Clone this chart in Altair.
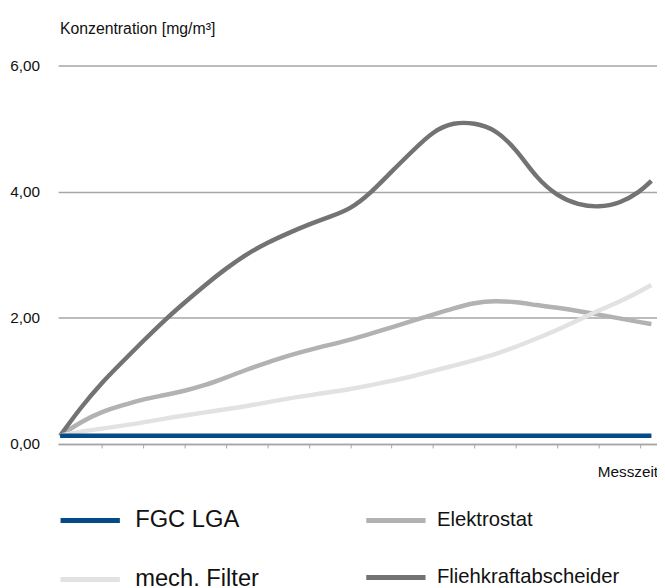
import altair as alt
import pandas as pd

messzeit = [0, 0.5, 1, 1.5, 2, 2.5, 3, 3.5, 4, 4.5, 5, 5.5, 6, 6.5, 7, 7.5,
            8, 8.5, 9, 9.5, 10, 10.5, 11, 11.5, 12, 12.5, 13, 13.5, 14, 14.27]

fgc_lga = [0.13, 0.13, 0.13, 0.13, 0.13, 0.13, 0.13, 0.13, 0.13, 0.13,
           0.13, 0.13, 0.13, 0.13, 0.13, 0.13, 0.13, 0.13, 0.13, 0.13,
           0.13, 0.13, 0.13, 0.13, 0.13, 0.13, 0.13, 0.13, 0.13, 0.13]
mech_filter = [0.13, 0.20, 0.24, 0.29, 0.34, 0.40, 0.45, 0.50, 0.55, 0.60,
               0.66, 0.72, 0.77, 0.82, 0.87, 0.93, 1.00, 1.07, 1.16, 1.24,
               1.33, 1.42, 1.54, 1.67, 1.81, 1.96, 2.12, 2.25, 2.42, 2.52]
elektrostat = [0.13, 0.35, 0.51, 0.61, 0.71, 0.77, 0.84, 0.93, 1.05, 1.18,
               1.29, 1.40, 1.49, 1.57, 1.65, 1.75, 1.85, 1.95, 2.05, 2.15,
               2.24, 2.27, 2.25, 2.20, 2.16, 2.11, 2.05, 1.99, 1.93, 1.90]
fliehkraft = [0.13, 0.58, 0.97, 1.30, 1.63, 1.95, 2.24, 2.52, 2.78, 3.01,
              3.19, 3.34, 3.48, 3.60, 3.72, 3.98, 4.32, 4.64, 4.96, 5.10,
              5.09, 4.99, 4.68, 4.21, 3.93, 3.79, 3.75, 3.81, 4.00, 4.17]

y_ticks = [0, 2, 4, 6]
x_ticks = [1, 2, 3, 4, 5, 6, 7, 8, 9, 10, 11, 12, 13, 14]

names_a = ["FGC LGA", "mech. Filter"]
colors_a = ["#034a87", "#e2e2e2"]
names_b = ["Elektrostat", "Fliehkraftabscheider"]
colors_b = ["#b2b2b2", "#737373"]

def long(name, vals):
    return pd.DataFrame({"t": messzeit, "v": vals, "s": name})

df_a = pd.concat([long("mech. Filter", mech_filter), long("FGC LGA", fgc_lga)])
df_b = pd.concat([long("Elektrostat", elektrostat), long("Fliehkraftabscheider", fliehkraft)])

FONT = "Liberation Sans"

x_enc = alt.X("t:Q",
              scale=alt.Scale(domain=[-0.048, 14.405], nice=False, zero=False),
              axis=alt.Axis(values=x_ticks, labels=False, grid=False,
                            domainColor="#a6a6a6", domainWidth=1.5,
                            tickColor="#a6a6a6", tickWidth=1, tickSize=4,
                            title="Messzeit", titleFont=FONT, titleFontSize=15.5,
                            titleFontWeight="normal", titleColor="#111111",
                            titleAlign="right", titleAnchor="start",
                            titleX=606.6, titleY=32.6, titleBaseline="alphabetic"))
y_enc = alt.Y("v:Q",
              scale=alt.Scale(domain=[0, 6], nice=False),
              axis=alt.Axis(values=y_ticks, grid=True, gridColor="#a6a6a6", gridWidth=1.5,
                            domain=False, ticks=False, tickSize=0, labelPadding=18.7,
                            labelExpr="replace(format(datum.value, '.2f'), '.', ',')",
                            labelFont=FONT, labelFontSize=15.5, labelColor="#111111",
                            title="Konzentration [mg/m³]", titleFont=FONT, titleFontSize=16,
                            titleFontWeight="normal", titleColor="#111111",
                            titleAngle=0, titleAlign="left", titleBaseline="alphabetic",
                            titleX=1.3, titleY=-32.7))

line_b = alt.Chart(df_b).mark_line(interpolate="basis", strokeWidth=4.5).encode(
    x=x_enc, y=y_enc,
    color=alt.Color("s:N", scale=alt.Scale(domain=names_b, range=colors_b),
                    legend=alt.Legend(orient="none", legendX=309.3, legendY=428,
                                      direction="vertical", title=None,
                                      symbolType="stroke", symbolSize=3600,
                                      symbolStrokeWidth=5, labelOffset=9,
                                      labelFont=FONT, labelFontSize=20.5,
                                      labelColor="#111111", rowPadding=14.6,
                                      padding=0, labelLimit=400))
)
line_a = alt.Chart(df_a).mark_line(interpolate="basis", strokeWidth=4.5).encode(
    x=x_enc, y=y_enc,
    color=alt.Color("s:N", scale=alt.Scale(domain=names_a, range=colors_a),
                    legend=alt.Legend(orient="none", legendX=0, legendY=428,
                                      direction="vertical", title=None,
                                      symbolType="stroke", symbolSize=3600,
                                      symbolStrokeWidth=5, labelOffset=13,
                                      labelFont=FONT, labelFontSize=24,
                                      labelColor="#111111", rowPadding=14.6,
                                      padding=0, labelLimit=400))
)

chart = alt.layer(line_b, line_a).resolve_scale(color="independent").properties(
    width=606, height=383,
    autosize=alt.AutoSizeParams(type="none"),
    padding={"left": 50.7, "top": 54.7, "right": 0, "bottom": 142},
    background="white",
).configure_view(stroke=None)

chart.save("out.html", embed_options={"renderer": "svg", "actions": False})
